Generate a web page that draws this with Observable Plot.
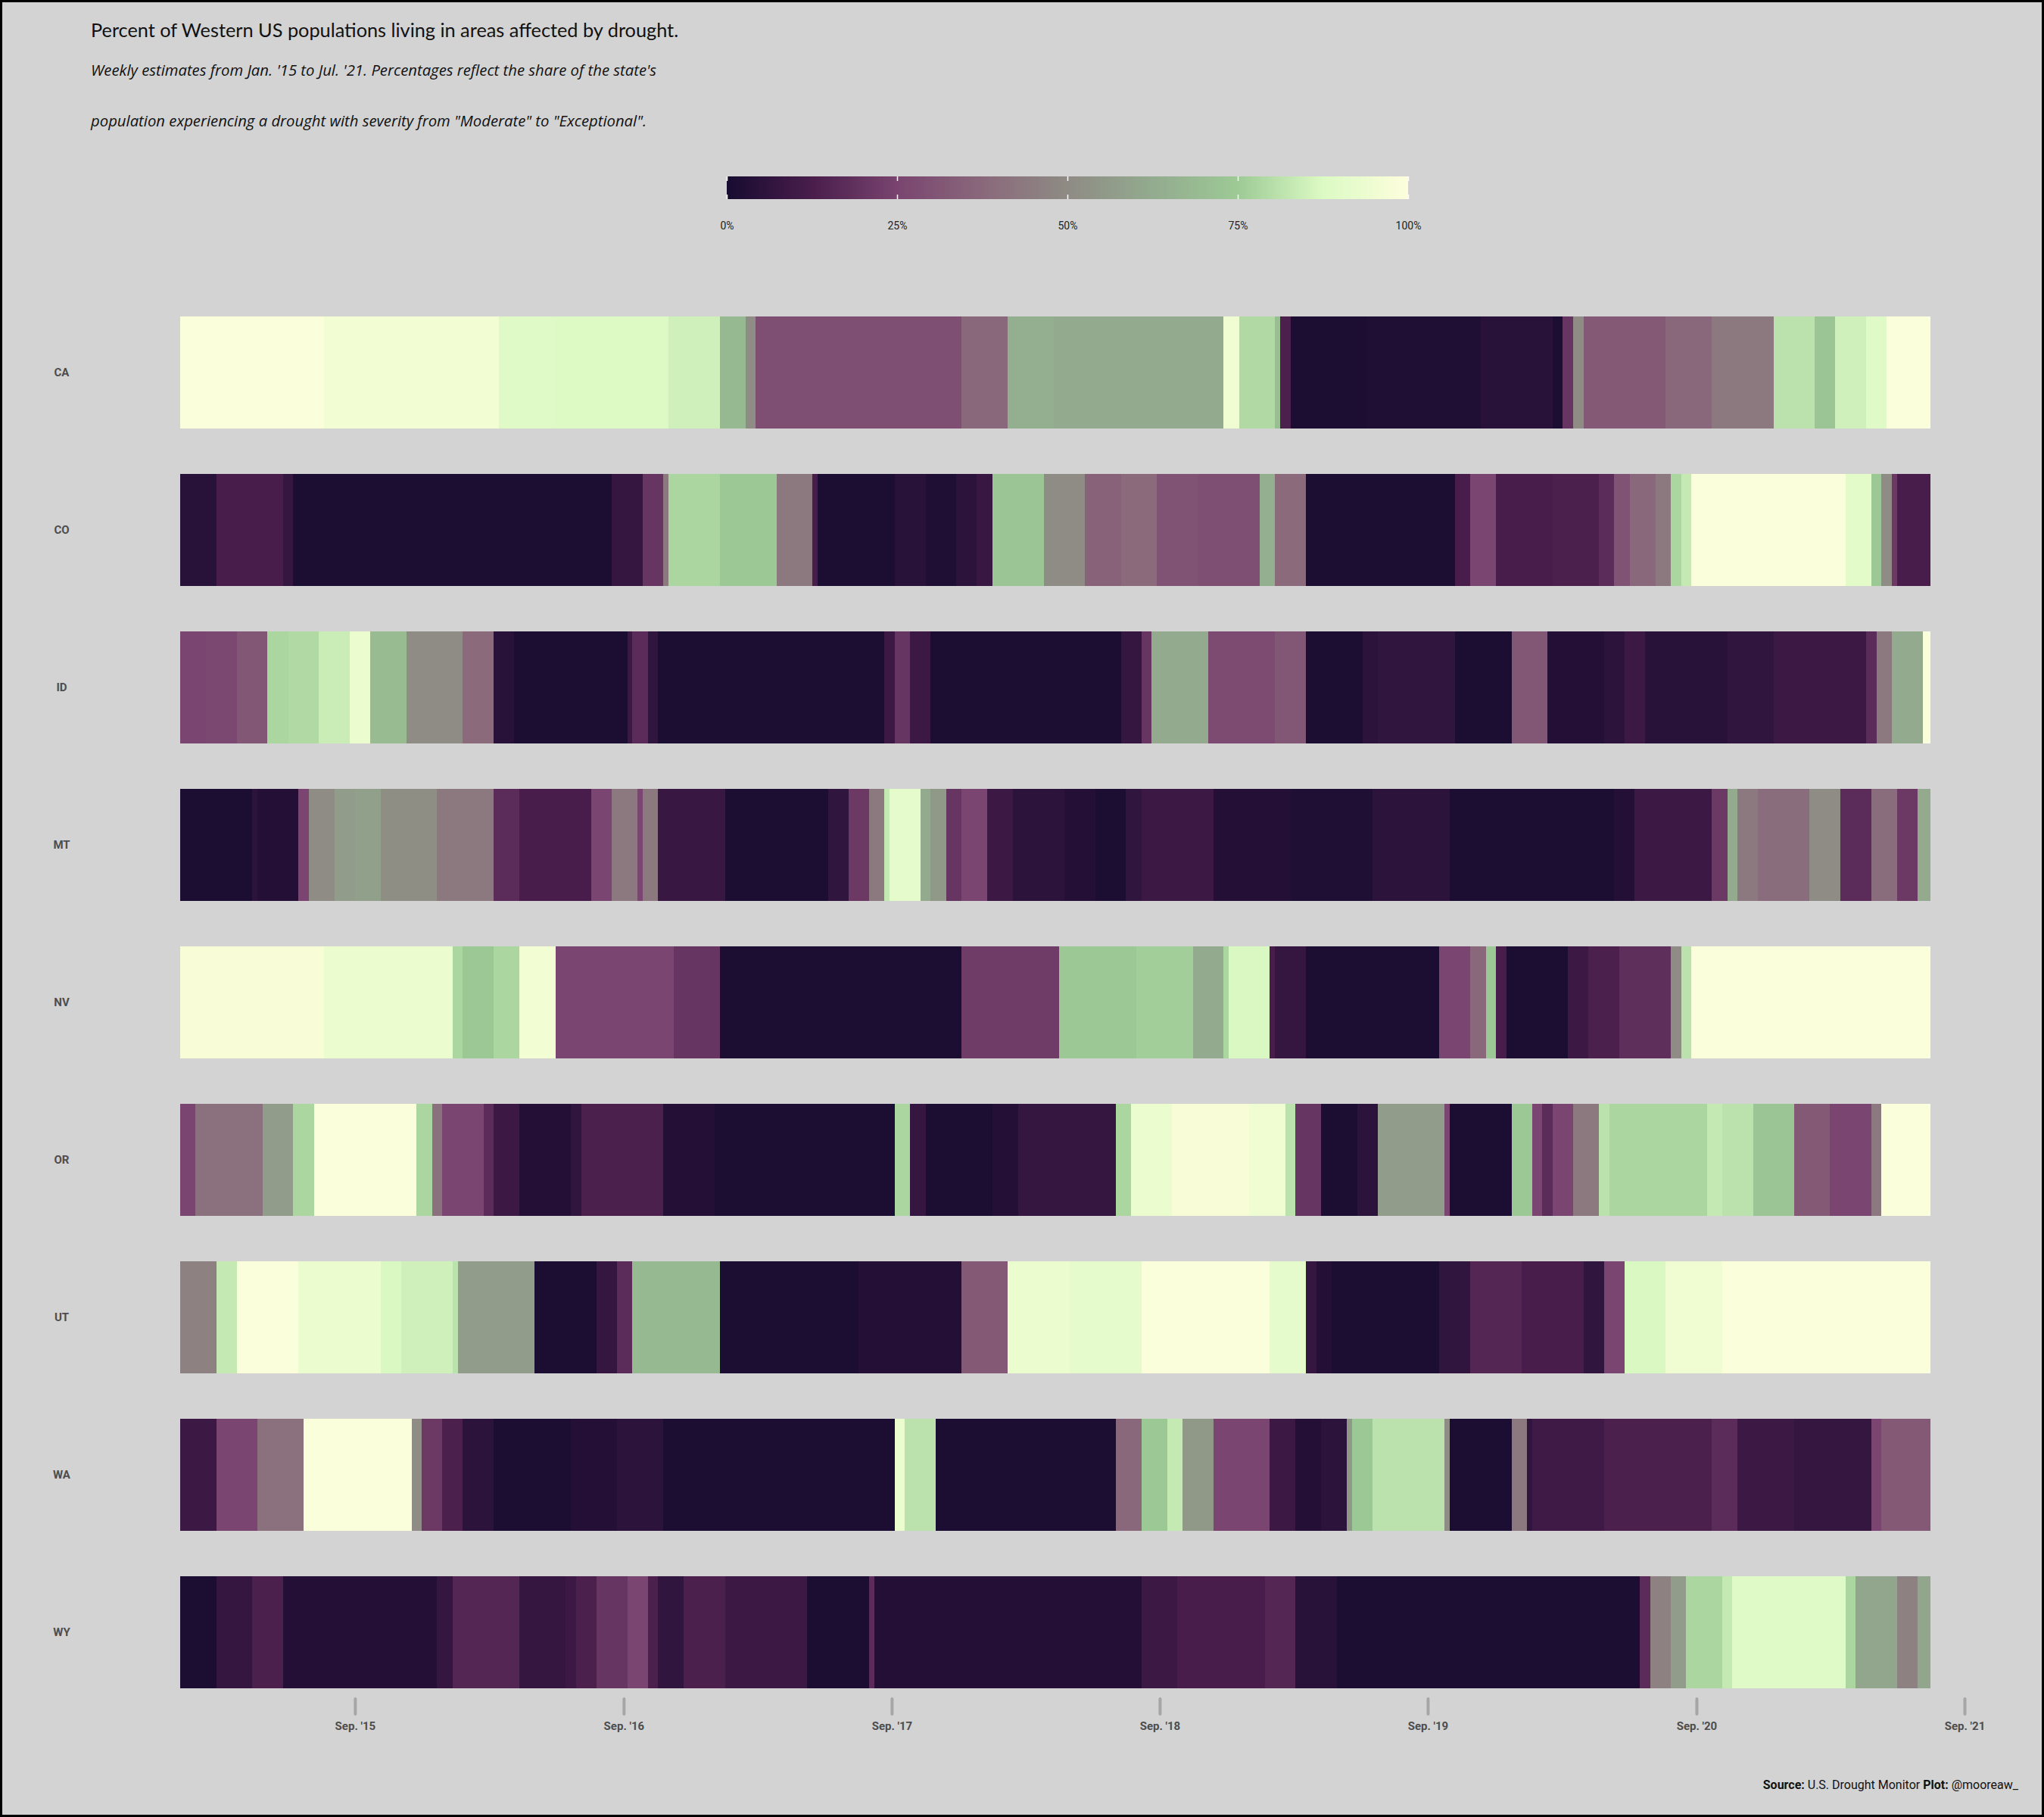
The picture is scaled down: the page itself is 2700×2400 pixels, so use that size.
<!DOCTYPE html>
<html>
<head>
<meta charset="utf-8">
<script src="https://cdn.jsdelivr.net/npm/d3@7"></script>
<script src="https://cdn.jsdelivr.net/npm/@observablehq/plot@0.6"></script>
<style>
  html, body { margin: 0; padding: 0; background: #d3d3d3; }
  #fig { position: relative; width: 2700px; height: 2400px; background: #d3d3d3; overflow: hidden; }
  #frame { position: absolute; left: 0; top: 0; width: 2700px; height: 2400px; border: 3px solid #000; box-sizing: border-box; pointer-events: none; }
  .title { position: absolute; left: 120px; top: 27px; font-family: Lato, "Open Sans", sans-serif; font-size: 25.3px; line-height: 1; color: #111; white-space: nowrap; }
  .sub { position: absolute; left: 120px; font-family: "Open Sans", Lato, sans-serif; font-style: italic; font-size: 20.3px; line-height: 1; color: #111; white-space: nowrap; }
  #legend { position: absolute; left: 940px; top: 228px; }
  #chart { position: absolute; left: 0; top: 340px; }
  .caption { position: absolute; right: 34px; top: 2350px; font-family: Roboto, sans-serif; font-size: 16px; line-height: 1; color: #111; white-space: nowrap; }
</style>
</head>
<body>
<div id="fig">
  <div class="title">Percent of Western US populations living in areas affected by drought.</div>
  <div class="sub" style="top:82px">Weekly estimates from Jan. '15 to Jul. '21. Percentages reflect the share of the state's</div>
  <div class="sub" style="top:149px">population experiencing a drought with severity from "Moderate" to "Exceptional".</div>
  <div id="legend"></div>
  <div id="chart"></div>
  <div class="caption"><b>Source:</b> U.S. Drought Monitor <b>Plot:</b> @mooreaw_</div>
  <div id="frame"></div>
</div>
<script>
// ---- Data: runs of weekly values ----
// Week index 0 = week of 2015-01-06; each run lasts until the next start.
const firstWeek = "2015-01-06";
const totalWeeks = 340.5;
const states = ["CA", "CO", "ID", "MT", "NV", "OR", "UT", "WA", "WY"];

const CA_weeks = [0,28,62,73,95,105,110,112,152,161,170,203,206,213,214,216,231,253,267,269,271,273,289,298,310,318,322,328,332];
const CA_pct   = [99,96,89,88,85,68,50,28,37,64,62,95,79,70,13,1,2,4,1,20,50,32,37,43,81,73,85,89,99];

const CO_weeks = [0,7,20,22,84,90,94,95,105,116,123,124,139,145,151,155,158,168,176,183,190,198,210,213,219,248,251,256,267,276,279,282,287,290,292,294,324,329,331,333,334];
const CO_pct   = [4,12,7,1,7,20,43,78,74,43,12,1,4,2,5,8,73,50,35,38,30,28,64,38,1,12,25,12,13,17,30,37,43,78,83,99,90,74,50,21,12];

const ID_weeks = [0,5,11,17,21,27,33,37,44,55,61,65,87,88,91,93,137,139,142,146,183,187,189,200,213,219,230,233,248,259,266,277,281,285,301,310,328,330,333,339];
const ID_pct   = [25,26,31,78,79,84,93,69,50,38,4,1,9,17,6,1,9,20,9,1,7,20,62,27,31,1,5,6,1,31,3,5,9,4,6,9,17,43,62,99];

const MT_weeks = [0,14,15,23,25,30,34,39,50,61,66,80,84,89,90,93,106,126,130,134,137,138,144,146,149,152,157,162,172,178,184,187,201,216,232,247,279,283,298,301,303,307,317,323,329,334,338];
const MT_pct   = [1,5,3,25,50,57,58,51,43,17,12,25,43,25,43,8,1,6,21,43,83,91,62,55,20,25,9,5,3,1,6,9,3,2,5,1,3,9,21,62,43,39,50,17,39,21,62];

const NV_weeks = [0,28,53,55,61,66,73,96,105,152,171,186,197,203,204,212,213,219,245,251,254,256,258,270,274,280,290,292,294];
const NV_pct   = [98,93,78,74,78,96,25,20,1,22,74,76,62,78,87,12,7,1,25,37,74,12,1,9,13,18,50,81,99];

const OR_weeks = [0,3,16,22,26,46,49,51,59,61,66,76,78,94,104,139,142,145,158,163,182,185,193,208,215,217,222,229,233,246,247,259,263,265,267,271,276,278,297,300,306,314,321,329,331];
const OR_pct   = [25,40,57,78,99,78,40,25,17,9,3,6,13,3,1,78,7,1,3,7,78,93,98,95,81,20,1,5,57,25,1,74,25,17,25,43,81,78,83,81,73,32,25,43,99];

const UT_weeks = [0,7,11,23,39,43,53,54,69,81,85,88,105,132,152,161,173,187,212,219,221,224,245,251,261,273,277,281,289,300];
const UT_pct   = [46,83,99,93,87,85,81,57,1,7,17,68,1,3,32,93,91,99,91,7,3,1,6,15,12,6,25,87,95,99];

const WA_weeks = [0,7,15,24,45,47,51,55,61,76,85,94,139,141,147,182,187,192,195,201,212,217,222,227,228,232,246,247,259,262,263,277,298,303,314,329,331];
const WA_pct   = [9,25,40,99,50,21,13,5,1,3,5,1,93,81,1,37,74,83,55,25,9,3,5,55,74,81,50,1,43,6,10,13,17,9,7,25,32];

const WY_weeks = [0,7,14,20,50,53,66,75,77,81,87,91,93,98,106,122,134,135,187,194,211,217,225,284,286,290,293,300,302,324,326,334,338];
const WY_pct   = [1,7,13,3,7,15,7,9,13,20,25,13,6,13,9,1,17,3,9,12,15,4,1,17,46,57,78,83,89,78,60,46,60];

// axis ticks and legend ticks
const tickDates = ["2015-09-01","2016-09-01","2017-09-01","2018-09-01","2019-09-01","2020-09-01","2021-09-01"];
const tickLabels = ["Sep. '15","Sep. '16","Sep. '17","Sep. '18","Sep. '19","Sep. '20","Sep. '21"];
const legendTicks = [0, 25, 50, 75, 100];
const legendLabels = ["0%", "25%", "50%", "75%", "100%"];
const xEnd = "2021-09-01";

// colour ramp
const rampColors = ["#180c31","#4a1e4c","#7a4570","#8a697b","#8e8c84","#93ab8f","#9dca95","#dcfac4","#fdfedc"];

// ---- Build table ----
const runs = {CA:[CA_weeks,CA_pct], CO:[CO_weeks,CO_pct], ID:[ID_weeks,ID_pct], MT:[MT_weeks,MT_pct],
  NV:[NV_weeks,NV_pct], OR:[OR_weeks,OR_pct], UT:[UT_weeks,UT_pct], WA:[WA_weeks,WA_pct], WY:[WY_weeks,WY_pct]};
const base = new Date(firstWeek + "T00:00:00Z");
const weekDate = w => new Date(base.getTime() + w * 7 * 864e5);
const rows = [];
for (const s of states) {
  const [wk, pv] = runs[s];
  for (let i = 0; i < wk.length; i++) {
    rows.push({state: s, start: weekDate(wk[i]), end: weekDate(i + 1 < wk.length ? wk[i + 1] : totalWeeks), pct: pv[i]});
  }
}

const ramp = d3.piecewise(d3.interpolateRgb, rampColors);
const colorScale = {type: "linear", domain: [0, 100], interpolate: ramp};
const tickDateObjs = tickDates.map(d => new Date(d + "T00:00:00Z"));

const chart = Plot.plot({
  width: 2700,
  height: 2000,
  marginLeft: 238,
  marginRight: 105,
  marginTop: 45,
  marginBottom: 96,
  style: {background: "transparent", fontFamily: "Roboto, sans-serif", color: "#4d4d4d"},
  x: {type: "utc", domain: [base, new Date(xEnd + "T00:00:00Z")], label: null},
  y: {domain: states, range: [45, 1922], paddingInner: 0.29, paddingOuter: 0.145, label: null},
  color: colorScale,
  marks: [
    Plot.barX(rows, {x1: "start", x2: "end", y: "state", fill: "pct", shapeRendering: "crispEdges"}),
    Plot.axisX({ticks: tickDateObjs, tickFormat: d => tickLabels[tickDateObjs.findIndex(t => +t === +d)],
      tickSize: 20, tickPadding: 10, stroke: "#a6a6a6", strokeWidth: 4, strokeLinecap: "round",
      fill: "#4d4d4d", fontSize: 15, fontWeight: "bold", label: null}),
    Plot.axisY({tickSize: 0, tickPadding: 157, textAnchor: "middle", fill: "#4d4d4d", fontSize: 15, fontWeight: "bold", label: null})
  ]
});
document.getElementById("chart").appendChild(chart);

const legend = Plot.legend({
  color: colorScale,
  width: 940, height: 80,
  marginLeft: 20, marginRight: 20, marginTop: 5, marginBottom: 45,
  ticks: legendTicks, tickSize: 0,
  tickFormat: d => legendLabels[legendTicks.indexOf(d)],
  label: null,
  style: {fontSize: "14px", fontFamily: "Roboto, sans-serif", background: "transparent", color: "#222"}
});
legend.querySelectorAll(".tick line").forEach(l => {
  l.setAttribute("stroke", "#ffffff");
  l.setAttribute("stroke-width", "1.5");
  l.setAttribute("stroke-dasharray", "6 18 6");
});
legend.querySelectorAll(".tick text").forEach(t => t.setAttribute("y", "30"));
document.getElementById("legend").appendChild(legend);
</script>
</body>
</html>
